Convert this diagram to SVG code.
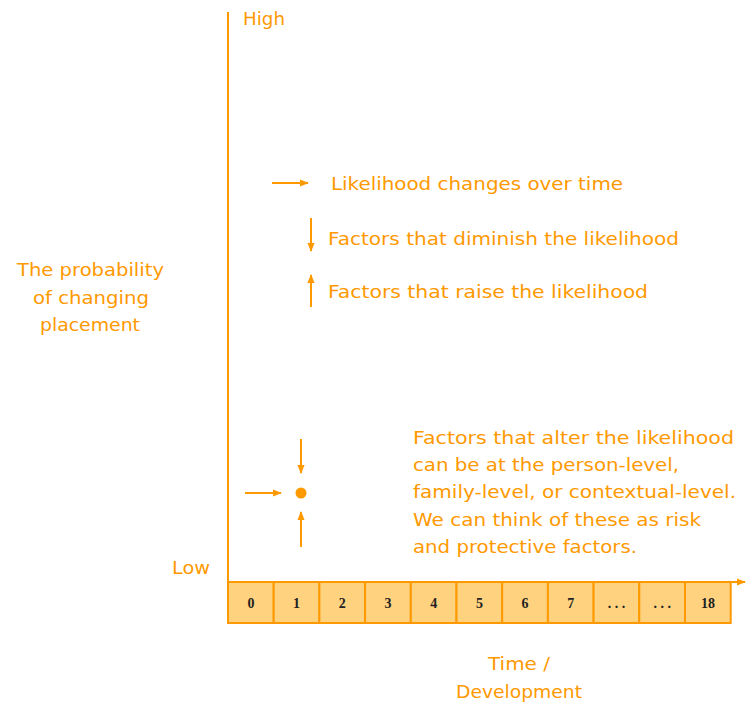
<svg xmlns="http://www.w3.org/2000/svg" width="746" height="704" viewBox="0 0 746 704">
<style>
.t{font-family:"DejaVu Sans","Liberation Sans",sans-serif;font-size:18px;fill:#ff9900}
.c{text-anchor:middle}
.n{font-family:"Liberation Serif","DejaVu Serif",serif;font-size:14px;font-weight:bold;fill:#222;text-anchor:middle}
.ln{stroke:#ff9900;stroke-width:2;fill:none}
.cell{fill:#ffd27f;stroke:#ff9900;stroke-width:2}
</style>
<defs>
<marker id="ah" viewBox="0 0 10 10" refX="9" refY="5" markerWidth="4.5" markerHeight="4.5" orient="auto" markerUnits="strokeWidth">
<path d="M0,1 L10,5 L0,9 Z" fill="#ff9900"/>
</marker>
</defs>
<rect width="746" height="704" fill="#ffffff"/>
<g id="axes">
<line class="ln" x1="228" y1="12" x2="228" y2="583"/>
<line class="ln" x1="228" y1="582" x2="745" y2="582" marker-end="url(#ah)"/>
</g>
<g id="timeline">
<rect class="cell" x="228" y="582" width="45.7" height="41"/>
<rect class="cell" x="273.7" y="582" width="45.7" height="41"/>
<rect class="cell" x="319.4" y="582" width="45.7" height="41"/>
<rect class="cell" x="365.1" y="582" width="45.7" height="41"/>
<rect class="cell" x="410.8" y="582" width="45.7" height="41"/>
<rect class="cell" x="456.5" y="582" width="45.7" height="41"/>
<rect class="cell" x="502.2" y="582" width="45.7" height="41"/>
<rect class="cell" x="547.9" y="582" width="45.7" height="41"/>
<rect class="cell" x="593.6" y="582" width="45.7" height="41"/>
<rect class="cell" x="639.3" y="582" width="45.7" height="41"/>
<rect class="cell" x="685" y="582" width="45.7" height="41"/>
<text class="n" x="250.9" y="608">0</text>
<text class="n" x="296.6" y="608">1</text>
<text class="n" x="342.3" y="608">2</text>
<text class="n" x="388" y="608">3</text>
<text class="n" x="433.7" y="608">4</text>
<text class="n" x="479.4" y="608">5</text>
<text class="n" x="525.1" y="608">6</text>
<text class="n" x="570.8" y="608">7</text>
<text class="n" x="616.5" y="608">. . .</text>
<text class="n" x="662.2" y="608">. . .</text>
<text class="n" x="707.9" y="608">18</text>
</g>
<g id="connectors">
<line class="ln" x1="272" y1="183" x2="308" y2="183" marker-end="url(#ah)"/>
<line class="ln" x1="311" y1="218" x2="311" y2="251" marker-end="url(#ah)"/>
<line class="ln" x1="311" y1="307" x2="311" y2="275" marker-end="url(#ah)"/>
<line class="ln" x1="245" y1="493" x2="281" y2="493" marker-end="url(#ah)"/>
<line class="ln" x1="301" y1="439" x2="301" y2="473" marker-end="url(#ah)"/>
<line class="ln" x1="301" y1="547" x2="301" y2="512" marker-end="url(#ah)"/>
</g>
<g id="point">
<circle cx="301" cy="493" r="5.5" fill="#ff9900"/>
</g>
<g id="labels">
<text class="t" x="243" y="25" textLength="42" lengthAdjust="spacingAndGlyphs">High</text>
<text class="t" x="172" y="574" textLength="38" lengthAdjust="spacingAndGlyphs">Low</text>
<text class="t" x="17" y="276" textLength="147" lengthAdjust="spacingAndGlyphs">The probability</text>
<text class="t" x="33" y="304" textLength="116" lengthAdjust="spacingAndGlyphs">of changing</text>
<text class="t" x="40" y="331" textLength="100" lengthAdjust="spacingAndGlyphs">placement</text>
<text class="t" x="488" y="670" textLength="62" lengthAdjust="spacingAndGlyphs">Time /</text>
<text class="t" x="456" y="698" textLength="126" lengthAdjust="spacingAndGlyphs">Development</text>
</g>
<g id="legend">
<text class="t" x="331" y="190" textLength="292" lengthAdjust="spacingAndGlyphs">Likelihood changes over time</text>
<text class="t" x="328" y="245" textLength="351" lengthAdjust="spacingAndGlyphs">Factors that diminish the likelihood</text>
<text class="t" x="328" y="298" textLength="320" lengthAdjust="spacingAndGlyphs">Factors that raise the likelihood</text>
</g>
<g id="note">
<text class="t" x="413" y="444" textLength="321" lengthAdjust="spacingAndGlyphs">Factors that alter the likelihood</text>
<text class="t" x="413" y="471" textLength="266" lengthAdjust="spacingAndGlyphs">can be at the person-level,</text>
<text class="t" x="413" y="498" textLength="323" lengthAdjust="spacingAndGlyphs">family-level, or contextual-level.</text>
<text class="t" x="413" y="526" textLength="288" lengthAdjust="spacingAndGlyphs">We can think of these as risk</text>
<text class="t" x="413" y="553" textLength="224" lengthAdjust="spacingAndGlyphs">and protective factors.</text>
</g>
</svg>
